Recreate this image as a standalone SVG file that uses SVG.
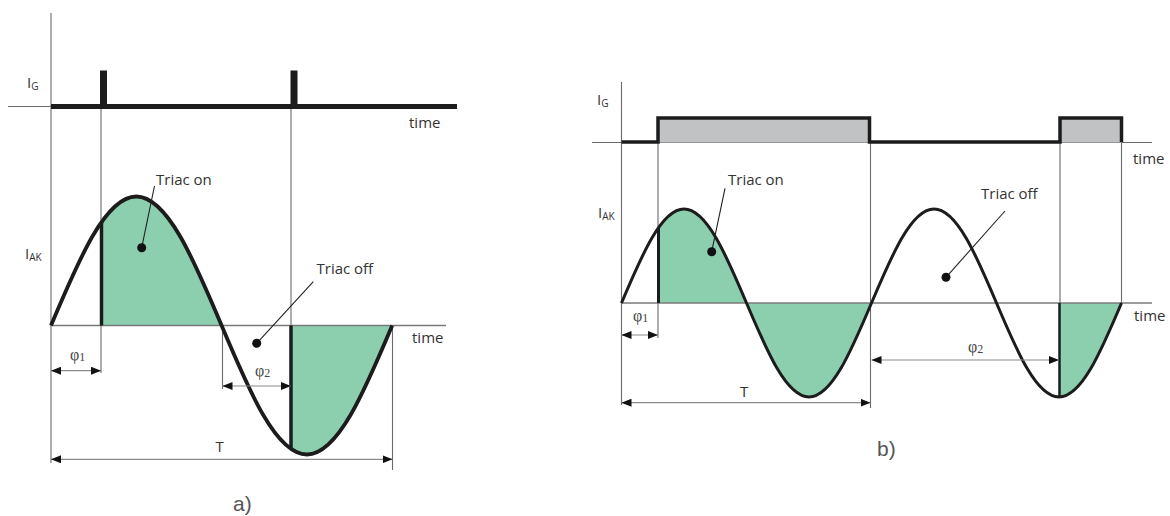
<svg xmlns="http://www.w3.org/2000/svg" width="1170" height="516" viewBox="0 0 1170 516">
<style>
.thin{stroke:#6a6a6a;stroke-width:1.1;fill:none}
.axis{stroke:#7a7a7a;stroke-width:1.5;fill:none}
.dim{stroke:#8a8a8a;stroke-width:1.2;fill:none;marker-start:url(#ah);marker-end:url(#ah)}
.curve{stroke:#1c1c1c;fill:none;stroke-linejoin:round}
.thick{stroke:#1c1c1c;fill:none}
.fill{fill:#8bcfaf;stroke:none}
.pulse{fill:#c1c2c4}
.lead{stroke:#222;stroke-width:1.1;fill:none}
.dot{fill:#111}
text{font-family:"Open Sans","Liberation Sans",sans-serif;fill:#333}
.lbl{font-size:15px}
.phi{font-family:"Liberation Serif","DejaVu Serif",serif;font-size:16px;fill:#444}
.cap{font-family:"Liberation Sans",Arial,sans-serif;font-size:21px;fill:#555}
</style>
<defs>
<marker id="ah" viewBox="0 0 10 8" refX="10" refY="4" markerWidth="10" markerHeight="8" markerUnits="userSpaceOnUse" orient="auto-start-reverse">
<path d="M0,0 L10,4 L0,8 z" fill="#111"/>
</marker>
<clipPath id="clipA">
<rect x="101" y="150" width="120.6" height="320"/>
<rect x="291" y="150" width="101.2" height="320"/>
</clipPath>
<clipPath id="clipB">
<rect x="658" y="180" width="213.5" height="240"/>
<rect x="1059" y="180" width="62.5" height="240"/>
</clipPath>
</defs>

<g id="diagram-a">
<g id="a-fill">
<path class="fill" clip-path="url(#clipA)" d="M51 325.5 C78.82 259.41,105.43 196.5,136.3 196.5 C167.17 196.5,193.78 259.41,221.6 325.5 C249.42 391.59,276.03 454.5,306.9 454.5 C337.77 454.5,364.38 391.59,392.2 325.5 Z"/>
</g>
<g id="a-axes">
<line class="thin" x1="51" y1="13" x2="51" y2="463"/>
<line class="thin" x1="8" y1="106.5" x2="51" y2="106.5"/>
<line class="axis" x1="51" y1="325.5" x2="446" y2="325.5"/>
<line class="thin" x1="101" y1="106" x2="101" y2="373"/>
<line class="thin" x1="291" y1="106" x2="291" y2="325.5"/>
<line class="thin" x1="222.5" y1="325.5" x2="222.5" y2="389"/>
<line class="thin" x1="392.5" y1="325.5" x2="392.5" y2="470"/>
</g>
<g id="a-gate">
<path class="thick" stroke-width="5" d="M51 106.5 H457"/>
<rect x="100" y="70.5" width="7" height="36" fill="#1c1c1c"/>
<rect x="290.5" y="70.5" width="7" height="36" fill="#1c1c1c"/>
</g>
<g id="a-current">
<path class="curve" stroke-width="3.8" d="M51 325.5 C78.82 259.41,105.43 196.5,136.3 196.5 C167.17 196.5,193.78 259.41,221.6 325.5 C249.42 391.59,276.03 454.5,306.9 454.5 C337.77 454.5,364.38 391.59,392.2 325.5"/>
<line class="thick" stroke-width="3.5" x1="101.5" y1="325.5" x2="101.5" y2="222"/>
<line class="thick" stroke-width="3.5" x1="291" y1="325.5" x2="291" y2="449"/>
</g>
<g id="a-connectors">
<line class="lead" x1="154.5" y1="186" x2="141.7" y2="247.7"/>
<circle class="dot" cx="141.7" cy="247.7" r="4.5"/>
<line class="lead" x1="313.3" y1="281.7" x2="256.7" y2="343.3"/>
<circle class="dot" cx="256.7" cy="343.3" r="4.5"/>
<line class="dim" x1="51" y1="370.7" x2="101" y2="370.7"/>
<line class="dim" x1="222.5" y1="386" x2="291" y2="386"/>
<line class="dim" x1="51" y1="459.3" x2="392.5" y2="459.3"/>
</g>
<g id="a-labels">
<text class="lbl" x="27" y="88">I<tspan font-size="10" dy="2">G</tspan></text>
<text class="lbl" x="409" y="128" fill="#222">time</text>
<text class="lbl" x="25" y="259">I<tspan font-size="10" dy="2">AK</tspan></text>
<text class="lbl" x="156" y="185">Triac on</text>
<text class="lbl" x="316.5" y="274">Triac off</text>
<text class="lbl" x="412" y="343" fill="#222">time</text>
<text class="phi" x="70" y="360">φ<tspan font-size="12" dy="1">1</tspan></text>
<text class="phi" x="255" y="376">φ<tspan font-size="12" dy="1">2</tspan></text>
<text class="lbl" x="215.5" y="452" font-size="14" fill="#444">T</text>
<text class="cap" x="233" y="511">a)</text>
</g>
</g>

<g id="diagram-b">
<g id="b-fill">
<path class="fill" clip-path="url(#clipB)" d="M621.5 303 C641.88 254.84,661.38 209,684 209 C706.62 209,726.12 254.84,746.5 303 C766.88 351.16,786.38 397,809 397 C831.62 397,851.12 351.16,871.5 303 C891.88 254.84,911.38 209,934 209 C956.62 209,976.12 254.84,996.5 303 C1016.88 351.16,1036.38 397,1059 397 C1081.62 397,1101.12 351.16,1121.5 303 Z"/>
</g>
<g id="b-axes">
<line class="thin" x1="621.5" y1="82" x2="621.5" y2="405"/>
<line class="thin" x1="592" y1="142.5" x2="1152" y2="142.5"/>
<line class="axis" x1="621.5" y1="303" x2="1152" y2="303"/>
<line class="thin" x1="658" y1="142" x2="658" y2="338"/>
<line class="thin" x1="870.5" y1="142" x2="870.5" y2="408"/>
<line class="thin" x1="1060" y1="142" x2="1060" y2="303"/>
<line class="thin" x1="1121.5" y1="142" x2="1121.5" y2="303"/>
</g>
<g id="b-gate">
<rect class="pulse" x="658" y="118" width="211.5" height="24.5"/>
<rect class="pulse" x="1060" y="118" width="61.5" height="24.5"/>
<path class="thick" stroke-width="3.5" stroke-linejoin="miter" d="M621.5 142 H658 V118 H869.5 V142 H1060 V118 H1121.5 V142"/>
</g>
<g id="b-current">
<path class="curve" stroke-width="3" d="M621.5 303 C641.88 254.84,661.38 209,684 209 C706.62 209,726.12 254.84,746.5 303 C766.88 351.16,786.38 397,809 397 C831.62 397,851.12 351.16,871.5 303 C891.88 254.84,911.38 209,934 209 C956.62 209,976.12 254.84,996.5 303 C1016.88 351.16,1036.38 397,1059 397 C1081.62 397,1101.12 351.16,1121.5 303"/>
<line class="thick" stroke-width="3" x1="658.5" y1="303" x2="658.5" y2="228"/>
<line class="thick" stroke-width="2.5" x1="1059.5" y1="303" x2="1059.5" y2="397"/>
</g>
<g id="b-connectors">
<line class="lead" x1="725" y1="188.3" x2="711.7" y2="251.7"/>
<circle class="dot" cx="711.7" cy="251.7" r="4.5"/>
<line class="lead" x1="1005" y1="211" x2="946" y2="277.3"/>
<circle class="dot" cx="946" cy="277.3" r="4.5"/>
<line class="dim" x1="621.5" y1="335" x2="658" y2="335"/>
<line class="dim" x1="621.5" y1="402.7" x2="870.5" y2="402.7"/>
<line class="dim" x1="871.5" y1="360" x2="1059" y2="360"/>
</g>
<g id="b-labels">
<text class="lbl" x="597" y="105">I<tspan font-size="10" dy="2">G</tspan></text>
<text class="lbl" x="1133" y="164" fill="#222">time</text>
<text class="lbl" x="598" y="218">I<tspan font-size="10" dy="2">AK</tspan></text>
<text class="lbl" x="728" y="185">Triac on</text>
<text class="lbl" x="981" y="199">Triac off</text>
<text class="lbl" x="1134" y="321" fill="#222">time</text>
<text class="phi" x="633" y="321">φ<tspan font-size="12" dy="1">1</tspan></text>
<text class="phi" x="968" y="352">φ<tspan font-size="12" dy="1">2</tspan></text>
<text class="lbl" x="740" y="397" font-size="16" fill="#444">T</text>
<text class="cap" x="877" y="456">b)</text>
</g>
</g>
</svg>
